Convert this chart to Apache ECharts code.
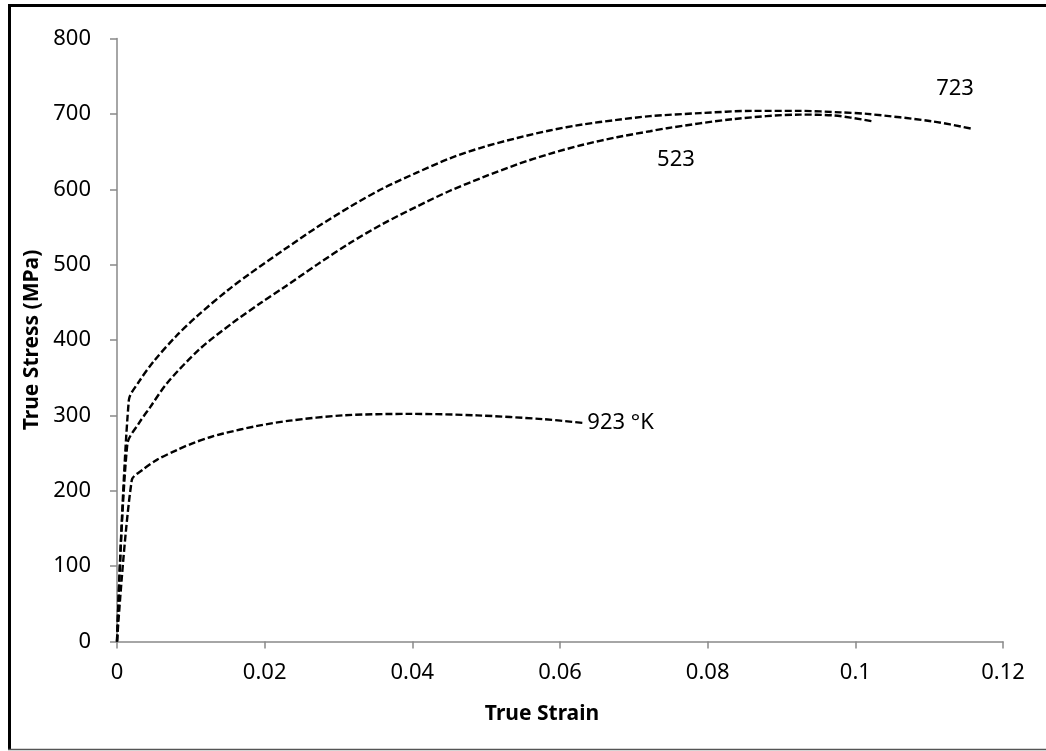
<!DOCTYPE html>
<html>
<head>
<meta charset="utf-8">
<script src="https://cdn.jsdelivr.net/npm/echarts@6/dist/echarts.min.js"></script>
<style>
html,body{margin:0;padding:0;background:#fff;}
#chart{width:1046px;height:751px;}
</style>
</head>
<body>
<div id="chart"></div>
<script>
// True strain / true stress (MPa) for each temperature (K)
var strain723 = [0, 0.0016, 0.003, 0.005, 0.008, 0.011, 0.015, 0.018, 0.0225, 0.027, 0.0316, 0.036, 0.0406, 0.0451, 0.0496, 0.0542, 0.0586, 0.0631, 0.0677, 0.0722, 0.079, 0.086, 0.0925, 0.098, 0.1016, 0.1105, 0.1159];
var stress723 = [0, 320, 345, 372, 405, 433, 466, 488, 519, 549, 577, 601, 622, 641, 656, 668, 678, 686, 692, 697, 701, 704, 704, 702, 700, 690, 680];

var strain523 = [0, 0.0014, 0.003, 0.0045, 0.0068, 0.0112, 0.0157, 0.0196, 0.0225, 0.0271, 0.0316, 0.036, 0.0406, 0.0451, 0.0496, 0.0542, 0.0586, 0.0631, 0.0677, 0.0722, 0.0745, 0.0834, 0.0925, 0.097, 0.1024];
var stress523 = [0, 262, 290, 311, 343, 388, 423, 450, 469, 500, 529, 554, 577, 598, 616, 633, 647, 659, 669, 677, 681, 693, 699, 698, 690];

var strain923 = [0, 0.002, 0.0035, 0.0054, 0.0081, 0.0105, 0.0126, 0.0144, 0.019, 0.0234, 0.0306, 0.0397, 0.0488, 0.0577, 0.0631];
var stress923 = [0, 214, 228, 241, 254, 264, 271, 276, 286, 293, 300, 302, 300, 295, 290];

var curveLabels = ['723', '523', '923 °K'];
var labelCoords = [[0.1135, 734], [0.0757, 639], [0.0637, 290]];

var xTicks = [0, 0.02, 0.04, 0.06, 0.08, 0.1, 0.12];
var yTicks = [0, 100, 200, 300, 400, 500, 600, 700, 800];

function pairs(xs, ys) { return xs.map(function (x, i) { return [x, ys[i]]; }); }

var font = '"Noto Sans", "Open Sans", sans-serif';
var lineStyle = { color: '#000', width: 2.4, type: [7, 3] };

function mk(i, pos) {
  return {
    symbol: 'circle', symbolSize: 0, silent: true,
    label: { show: true, position: pos, distance: 0, formatter: curveLabels[i],
      color: '#000', fontSize: 22, fontFamily: font },
    data: [{ coord: labelCoords[i] }]
  };
}

var chart = echarts.init(document.getElementById('chart'), null, { renderer: 'canvas' });
chart.setOption({
  animation: false,
  backgroundColor: '#fff',
  grid: { left: 117, top: 38.5, right: 43, bottom: 109.5, containLabel: false },
  xAxis: {
    type: 'value', min: xTicks[0], max: xTicks[xTicks.length - 1], interval: 0.02,
    name: 'True Strain', nameLocation: 'middle', nameGap: 62,
    nameTextStyle: { fontSize: 21, fontWeight: 'bold', color: '#000', fontFamily: font, padding: [0, 36, 0, 0] },
    axisLine: { show: true, lineStyle: { color: '#898989', width: 1.5 } },
    axisTick: { show: true, length: 7, lineStyle: { color: '#898989', width: 1.5 } },
    axisLabel: { margin: 20, fontSize: 22, color: '#000', fontFamily: font },
    splitLine: { show: false }
  },
  yAxis: {
    type: 'value', min: yTicks[0], max: yTicks[yTicks.length - 1], interval: 100,
    name: 'True Stress (MPa)', nameLocation: 'middle', nameGap: 68, nameRotate: 90,
    nameTextStyle: { fontSize: 21, fontWeight: 'bold', color: '#000', fontFamily: font },
    axisLine: { show: true, lineStyle: { color: '#898989', width: 1.5 } },
    axisTick: { show: true, length: 7, lineStyle: { color: '#898989', width: 1.5 } },
    axisLabel: { margin: 26, fontSize: 22, color: '#000', fontFamily: font },
    splitLine: { show: false }
  },
  series: [
    { type: 'line', data: pairs(strain723, stress723), showSymbol: false, smooth: 0.3, lineStyle: lineStyle, markPoint: mk(0, 'inside') },
    { type: 'line', data: pairs(strain523, stress523), showSymbol: false, smooth: 0.3, lineStyle: lineStyle, markPoint: mk(1, 'inside') },
    { type: 'line', data: pairs(strain923, stress923), showSymbol: false, smooth: 0.3, lineStyle: lineStyle, markPoint: mk(2, 'right') }
  ],
  graphic: [
    { type: 'line', shape: { x1: 9.5, y1: 4, x2: 9.5, y2: 750 }, style: { stroke: '#000', lineWidth: 3 } },
    { type: 'line', shape: { x1: 8, y1: 5.5, x2: 1046, y2: 5.5 }, style: { stroke: '#000', lineWidth: 3 } },
    { type: 'line', shape: { x1: 8, y1: 749.5, x2: 1046, y2: 749.5 }, style: { stroke: '#555', lineWidth: 1.5 } }
  ]
});
</script>
</body>
</html>
